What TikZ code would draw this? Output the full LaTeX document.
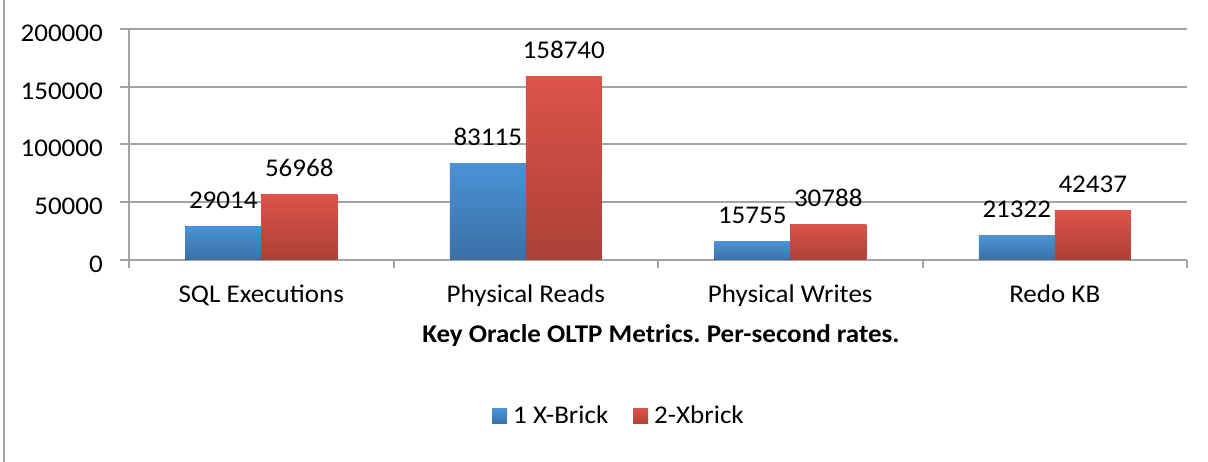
\documentclass[tikz,border=0pt]{standalone}
\usepackage{fontspec}
\setmainfont{Carlito}[FakeStretch=1.06]
\usetikzlibrary{calc}
\definecolor{bluetop}{HTML}{4A92D6}
\definecolor{bluebot}{HTML}{3A70A6}
\definecolor{redtop}{HTML}{DC534A}
\definecolor{redbot}{HTML}{AC4137}
\definecolor{gridgray}{HTML}{A3A3A3}
\frenchspacing

\begin{document}
\begin{tikzpicture}[x=1pt,y=1pt,font=\fontsize{25.5}{30}\selectfont,
    gridline/.style={gridgray,line width=2pt},
    bluebar/.style={top color=bluetop,bottom color=bluebot},
    redbar/.style={top color=redtop,bottom color=redbot},
    barvalue/.style={anchor=base,inner sep=0pt},
    ticklabel/.style={anchor=base east,inner sep=0pt}]
            \useasboundingbox (0,0) rectangle (1208,462);
            \fill[white] (0,0) rectangle (1208,462);
            \draw[gridline] (4,0)--(4,462);
            % origin of the plot and its corners
            \coordinate (o) at (129,202);
            \coordinate (e) at (1187,202);
            % value grid, 50000 = 57.75pt
            \foreach \v/\lab in {0/0,1/50000,2/100000,3/150000,4/200000}{
                \draw[gridline] (120,202+57.75*\v)--(1187,202+57.75*\v);
                \node[ticklabel] (y\v) at (103,202+57.75*\v-12.5) {\lab};
            }
            \draw[gridline] (o)--(129,433);
            % category ticks
            \foreach \i in {0,...,4}
                \draw[gridline] (129+264.5*\i,202)--(129+264.5*\i,194);
            % bars: name / 1 X-Brick / 2-Xbrick (heights in thousands)
            \foreach \i/\cat/\a/\ha/\b/\hb in {0/SQL Executions/29014/29.014/56968/56.968,1/Physical Reads/83115/83.115/158740/158.74,2/Physical Writes/15755/15.755/30788/30.788,3/Redo KB/21322/21.322/42437/42.437}{
                \coordinate (c\i) at (129+264.5*\i+132.25,202);
                \fill[bluebar] ($(c\i)+(-76,0)$) rectangle ($(c\i)+(0,\ha*1.155)$);
                \fill[redbar] (c\i) rectangle ($(c\i)+(76,\hb*1.155)$);
                \node[barvalue] (va\i) at ($(c\i)+(-38,\ha*1.155+18)$) {\a};
                \node[barvalue] (vb\i) at ($(c\i)+(38,\hb*1.155+18)$) {\b};
                \node[barvalue] (cat\i) at ($(c\i)+(0,-43)$) {\cat};
            }
            \node[barvalue,font=\fontsize{25.5}{30}\selectfont\bfseries] (title) at (661,119) {Key Oracle OLTP Metrics. Per-second rates.};
            % legend
            \fill[bluebar] (492,38) rectangle (507,53);
            \node[anchor=base west,inner sep=0pt] (leg1) at (513,38) {1 X-Brick};
            \fill[redbar] (633,38) rectangle (648,53);
            \node[anchor=base west,inner sep=0pt] (leg2) at (654,38) {2-Xbrick};
        \end{tikzpicture}
\end{document}
